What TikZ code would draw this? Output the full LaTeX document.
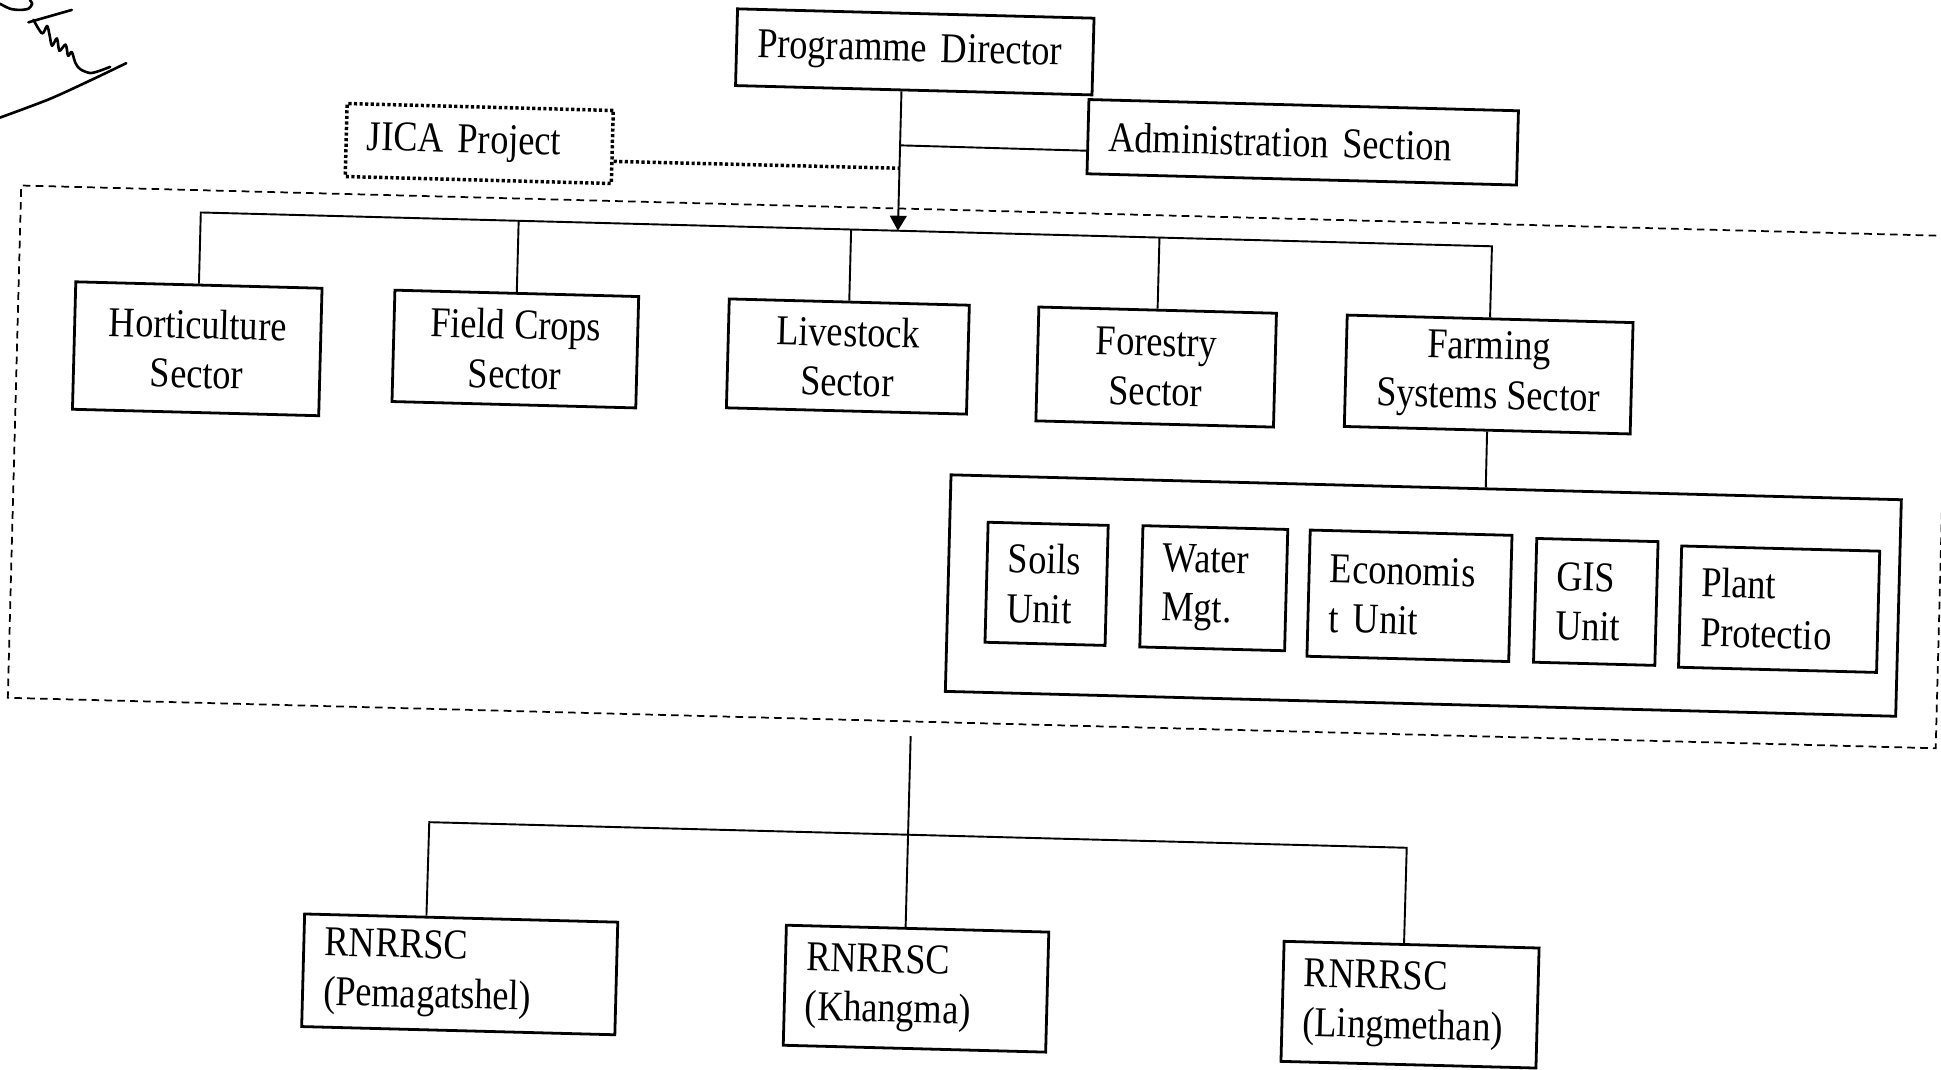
\documentclass[tikz,border=0pt]{standalone}
\usepackage{fontspec}
\setmainfont{Liberation Serif}[FakeStretch=0.855]
\usetikzlibrary{arrows.meta,calc}
\newcommand\diagfont{\fontsize{12.2}{14.2}\selectfont\spaceskip 2.7pt plus 1pt minus 0.5pt\relax}
\begin{document}
\begin{tikzpicture}[x=0.0125cm,y=-0.0125cm,
  font=\diagfont,
  box/.style={draw, line width=0.8pt, inner sep=0pt},
  cbox/.style 2 args={box, minimum width=#1*0.0125cm, minimum height=#2*0.0125cm, align=center},
  lbox/.style 2 args={box, inner xsep=0.2125cm, inner ysep=0pt, text width=#1, minimum height=#2*0.0125cm, align=left},
  conn/.style={line width=0.55pt},
  dotbox/.style={line width=1pt, dash pattern=on 0.9pt off 0.7pt},
  zonebox/.style={draw, line width=0.5pt, dash pattern=on 2.2pt off 1.5pt, inner sep=0pt},
  sig/.style={line width=0.75pt, line cap=round, line join=round},
]
\useasboundingbox[fill=white] (0,0) rectangle (1568,864);

% signature
\draw[sig] plot[smooth] coordinates {(0,3) (8,7) (16,8) (23,7) (26,3) (24,0)};
\draw[sig] (23,18) -- (58,8);
\draw[sig] plot[smooth] coordinates {(27,16) (34,27) (38,21) (40,28) (42,37) (46,31) (48,41) (53,36) (55,45) (58,42) (61,51) (65,56) (73,59) (81,57) (89,54)};
\draw[sig] plot[smooth] coordinates {(0,95) (40,80) (75,64) (102,51)};

\begin{scope}[rotate around={-1.5:(784,432)}, transform shape]
  % dashed zone
  \node[zonebox, minimum width=1558*0.0125cm, minimum height=414*0.0125cm] (zone) at (789,377) {};

  % top level
  \node[lbox={3.175cm}{62}] (pd) at (728.8,43.2) {Programme Director};
  \node[lbox={3.9125cm}{60}] (adm) at (1044,108) {Administration Section};
  \node[lbox={2.2625cm}{59}, dotbox] (jica) at (379,126.4) {JICA Project};

  % sectors
  \node[cbox={199}{103}, anchor=north] (hort) at (155.6,245.5) {Horticulture\\Sector};
  \node[cbox={197}{90}, anchor=north] (fc) at (412.5,245.5) {Field Crops\\Sector};
  \node[cbox={194}{88}, anchor=north] (live) at (681.2,245.5) {Livestock\\Sector};
  \node[cbox={192}{92}, anchor=north] (fore) at (930.4,245.5) {Forestry\\Sector};
  \node[cbox={231}{90}, anchor=north] (farm) at (1199.1,245.5) {Farming\\Systems Sector};

  % units
  \node[cbox={768}{175}] (units) at (1151,471.5) {};
  \node[lbox={0.7875cm}{97}] (soil) at (846.5,470) {Soils\\Unit};
  \node[lbox={1.0375cm}{98}] (water) at (981.6,470) {Water\\Mgt.};
  \node[lbox={1.6125cm}{102}] (econ) at (1139.8,472) {Economis\\t Unit};
  \node[lbox={0.8cm}{100}] (gis) at (1290.4,473) {GIS\\Unit};
  \node[lbox={1.575cm}{98}] (plant) at (1438.6,475) {Plant\\Protectio};

  % regional centres
  \node[lbox={2.7375cm}{91}] (pema) at (380.8,797.8) {RNRRSC\\(Pemagatshel)};
  \node[lbox={2.225cm}{97}] (khan) at (749.6,799.7) {RNRRSC\\(Khangma)};
  \node[lbox={2.15cm}{97}] (ling) at (1148.9,802.2) {RNRRSC\\(Lingmethan)};

  % coordinates for connector bends
  \coordinate (pdfoot) at (719,188);
  \coordinate (admj) at (719,119);
  \coordinate (jicj) at (719,137.5);
  \coordinate (hb) at (155.6,188);
  \coordinate (fcb) at (412.5,188);
  \coordinate (lvb) at (681.2,188);
  \coordinate (fob) at (930.4,188);
  \coordinate (fab) at (1199.1,188);
  \coordinate (rtop) at (740,596);
  \coordinate (pc) at (353,675.6);
  \coordinate (lc) at (1143,675.6);

  % connectors
  \draw[conn, -{Triangle[length=4.3pt,width=4.8pt]}] ($(pd.south west)!0.466!(pd.south east)$) -- (pdfoot);
  \draw[conn] (admj) -- ($(adm.north west)!0.683!(adm.south west)$);
  \draw[dotbox] ($(jica.north east)!0.688!(jica.south east)$) -- (jicj);
  \draw[conn] (hort.north) -- (hb) -- (fab) -- (farm.north);
  \draw[conn] (fc.north) -- (fcb);
  \draw[conn] (live.north) -- (lvb);
  \draw[conn] (fore.north) -- (fob);
  \draw[conn] (farm.south) -- ($(units.north west)!0.5626!(units.north east)$);
  \draw[conn] (rtop) -- ($(khan.north west)!0.455!(khan.north east)$);
  \draw[conn] ($(pema.north west)!0.39!(pema.north east)$) -- (pc) -- (lc) -- ($(ling.north west)!0.471!(ling.north east)$);
\end{scope}
\end{tikzpicture}
\end{document}
